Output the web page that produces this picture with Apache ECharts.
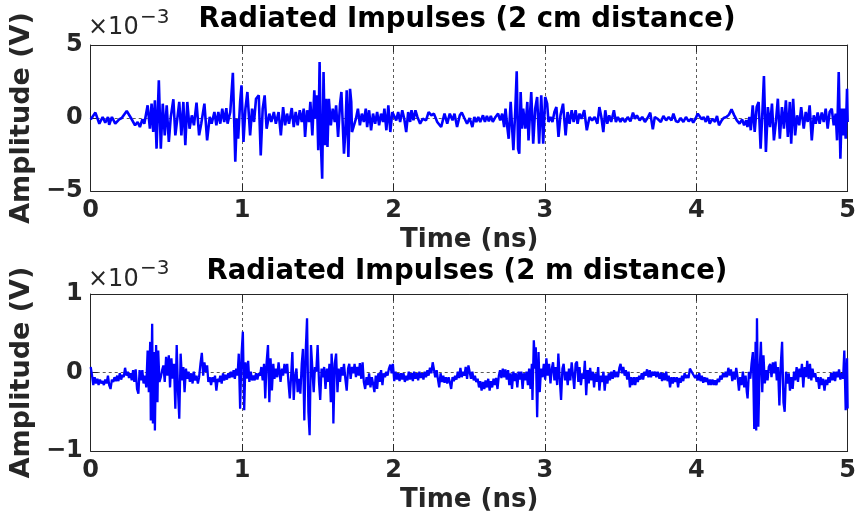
<!DOCTYPE html>
<html><head><meta charset="utf-8">
<script src="https://cdn.jsdelivr.net/npm/echarts@6/dist/echarts.min.js"></script>
<style>html,body{margin:0;padding:0;background:#fff}#c{width:859px;height:525px}</style>
</head><body><div id="c"></div>
<script>
// Time (ns) and amplitude (x1e-3 V)
const titles = ['Radiated Impulses (2 cm distance)', 'Radiated Impulses (2 m distance)'];
const xTickValues = [0, 1, 2, 3, 4, 5];
const yRange1 = [-5, 5];
const yRange2 = [-1, 1];

const pulse2cm = [
[0,-0.1],[0.031,0.37],[0.057,-0.39],[0.079,0.07],[0.096,-0.32],[0.114,0.07],[0.122,-0.46],[0.140,0.07],[0.162,-0.39],[0.188,-0.09],
[0.205,0],[0.238,0.48],[0.266,0],[0.293,-0.5],[0.310,-0.27],[0.325,-0.62],[0.341,-0.09],[0.354,-0.39],[0.376,0.87],[0.391,-0.73],
[0.402,0.98],[0.413,-0.96],[0.424,1.21],[0.435,-2.1],[0.450,2.58],[0.463,-2.1],[0.476,0.98],[0.489,-1.19],[0.502,0.87],[0.516,-1.64],
[0.529,0.07],[0.546,1.28],[0.559,-1.19],[0.572,-0.05],[0.585,1.1],[0.599,-1.19],[0.612,1.1],[0.625,-1.87],[0.638,1.1],[0.653,-0.73],
[0.668,0.18],[0.682,-0.5],[0.699,1.05],[0.716,-1.19],[0.730,-0.39],[0.751,0.98],[0.769,-1.53],[0.786,0.07],[0.799,-0.39],[0.817,0.41],
[0.830,-0.5],[0.843,0.41],[0.856,-0.39],[0.869,0.64],[0.882,-0.27],[0.896,0.68],[0.904,-0.39],[0.922,0.41],[0.939,3.1],[0.955,-3.0],
[0.965,-0.05],[0.974,-1.42],[0.987,1.1],[0.996,2.24],[1.009,-1.64],[1.022,0.64],[1.035,1.78],[1.053,-1.19],[1.066,0.64],[1.079,-0.27],
[1.092,1.32],[1.110,1.55],[1.123,-2.56],[1.136,0.64],[1.149,1.55],[1.162,-0.73],[1.180,0.3],[1.193,-0.27],[1.210,0.41],[1.223,-0.39],
[1.241,0.41],[1.256,-1.19],[1.271,0.75],[1.284,-0.5],[1.297,0.3],[1.310,-0.39],[1.328,0.68],[1.341,-0.62],[1.354,0.41],[1.367,-0.5],
[1.381,0.53],[1.394,-0.27],[1.407,0.64],[1.416,-1.3],[1.429,0.53],[1.442,-0.27],[1.451,1.1],[1.464,-1.19],[1.477,1.9],[1.486,-0.05],
[1.494,1.55],[1.503,-2.21],[1.512,3.84],[1.520,-1.64],[1.529,-4.16],[1.538,3.15],[1.547,-1.87],[1.555,1.32],[1.564,-1.99],[1.573,1.32],
[1.586,-0.5],[1.599,0.64],[1.612,-0.27],[1.621,0.87],[1.634,-1.3],[1.647,0.98],[1.656,1.78],[1.673,-2.44],[1.682,-0.96],[1.691,1.9],
[1.702,-2.67],[1.713,2.0],[1.721,1.1],[1.726,-0.96],[1.739,-0.84],[1.752,-0.05],[1.765,0.64],[1.778,-0.5],[1.791,0.3],[1.804,-0.27],
[1.817,0.64],[1.826,-0.62],[1.839,0.53],[1.852,-0.84],[1.865,0.3],[1.879,-0.39],[1.892,0.41],[1.905,-0.5],[1.918,0.3],[1.931,-0.27],
[1.940,0.64],[1.953,-0.84],[1.966,0.87],[1.979,-0.96],[1.992,0.41],[2.005,0.3],[2.018,-0.16],[2.031,0.41],[2.044,-0.27],[2.058,0.53],
[2.071,-0.05],[2.084,-0.96],[2.097,0.41],[2.110,-0.27],[2.119,0.53],[2.132,-0.16],[2.145,0.53],[2.158,0.07],[2.176,-0.39],[2.193,-0.05],
[2.215,-0.16],[2.232,0.41],[2.250,0.18],[2.267,0.3],[2.289,-0.27],[2.315,-0.62],[2.337,0.3],[2.355,-0.39],[2.372,0.3],[2.390,-0.16],
[2.403,0.3],[2.420,-0.62],[2.438,0.18],[2.451,0.37],[2.468,0],[2.486,-0.39],[2.503,0],[2.521,-0.62],[2.534,0.07],[2.547,-0.27],
[2.560,0.07],[2.573,-0.27],[2.591,0.18],[2.604,-0.27],[2.617,0.14],[2.630,-0.23],[2.643,0.14],[2.656,-0.27],[2.674,0.07],[2.691,0.3],
[2.705,-0.16],[2.718,0.3],[2.731,-0.62],[2.740,0.64],[2.753,-0.73],[2.761,-1.42],[2.774,1.1],[2.783,1.21],[2.792,-2.21],[2.805,0.64],
[2.814,3.2],[2.823,-2.1],[2.831,-2.44],[2.840,1.78],[2.849,-0.73],[2.857,0.64],[2.871,-0.73],[2.884,1.1],[2.892,-1.53],[2.910,1.78],
[2.923,-1.76],[2.936,0.64],[2.949,1.44],[2.962,-1.76],[2.976,1.55],[2.989,-1.76],[3.002,1.44],[3.015,0.98],[3.024,-0.27],[3.037,0.07],
[3.050,-0.27],[3.063,0.41],[3.076,0.75],[3.090,-1.3],[3.103,0.18],[3.120,0.98],[3.137,-1.19],[3.150,0.41],[3.163,-0.39],[3.177,0.53],
[3.190,-0.27],[3.203,0.53],[3.216,-0.39],[3.229,0.3],[3.242,-0.05],[3.260,0.53],[3.277,-0.84],[3.295,0.07],[3.312,-0.16],[3.329,0.07],
[3.347,-0.39],[3.360,0.75],[3.373,0.07],[3.386,-0.96],[3.399,0.53],[3.412,-0.39],[3.425,0.18],[3.438,-0.27],[3.456,0.53],[3.469,-0.27],
[3.482,0.07],[3.499,-0.27],[3.512,0],[3.530,-0.27],[3.547,0.07],[3.565,-0.23],[3.582,0.37],[3.595,-0.05],[3.608,0.18],[3.626,-0.16],
[3.643,0.07],[3.661,-0.27],[3.678,0],[3.696,0.37],[3.713,-0.78],[3.726,0.07],[3.744,-0.05],[3.766,-0.27],[3.783,0.14],[3.801,-0.16],
[3.818,0.07],[3.836,-0.16],[3.849,0.3],[3.866,-0.23],[3.880,-0.27],[3.897,0],[3.915,-0.27],[3.932,0.07],[3.950,-0.23],[3.967,-0.05],
[3.980,-0.32],[3.997,0],[4.010,0.3],[4.023,0.41],[4.036,-0.09],[4.049,0.07],[4.063,-0.27],[4.076,0.14],[4.089,-0.39],[4.107,-0.05],
[4.124,-0.27],[4.137,0.14],[4.150,-0.5],[4.168,-0.16],[4.181,0],[4.199,0.07],[4.216,0.23],[4.233,0.59],[4.251,0.18],[4.268,-0.16],
[4.286,-0.39],[4.303,-0.09],[4.316,-0.5],[4.330,-0.16],[4.338,-0.62],[4.351,0.07],[4.360,-0.84],[4.373,0.87],[4.386,-0.96],[4.399,0.75],
[4.412,1.1],[4.425,-2.1],[4.438,0.64],[4.447,2.88],[4.460,-2.33],[4.473,0.75],[4.487,-0.62],[4.500,0.98],[4.513,-1.53],[4.526,-0.27],
[4.539,1.32],[4.552,-1.42],[4.566,0.75],[4.579,-0.73],[4.592,1.21],[4.605,-1.3],[4.618,1.1],[4.627,-1.76],[4.640,1.32],[4.653,-1.19],
[4.666,0.18],[4.680,-0.5],[4.693,0.75],[4.710,-0.73],[4.723,0.41],[4.736,-0.27],[4.749,0.87],[4.763,-1.53],[4.776,0.18],[4.789,-0.39],
[4.802,0.37],[4.815,-0.39],[4.829,0.37],[4.842,-0.27],[4.855,0.64],[4.868,-0.73],[4.881,0.41],[4.895,0.64],[4.908,-0.5],[4.921,0.3],
[4.930,-1.53],[4.941,3.15],[4.952,-2.79],[4.961,0.64],[4.970,-1.19],[4.978,0.64],[4.987,-1.42],[4.996,2.0],[5.0,-0.27]
];

const pulse2m = [
[0,0.07],[0.009,-0.04],[0.017,-0.16],[0.026,-0.06],[0.035,-0.14],[0.044,-0.08],[0.052,-0.16],[0.061,-0.09],[0.070,-0.14],[0.079,-0.11],
[0.087,-0.16],[0.096,-0.09],[0.105,-0.14],[0.114,-0.04],[0.122,-0.16],[0.131,-0.21],[0.140,-0.09],[0.149,-0.12],[0.157,-0.06],[0.166,-0.11],
[0.175,-0.04],[0.183,-0.11],[0.192,-0.01],[0.201,-0.09],[0.210,-0.03],[0.218,-0.06],[0.227,0.06],[0.236,-0.04],[0.245,0.01],[0.253,-0.07],
[0.262,-0.01],[0.271,-0.10],[0.280,0.03],[0.288,-0.12],[0.297,0.04],[0.306,-0.21],[0.315,-0.27],[0.323,0.03],[0.332,-0.10],[0.341,0.03],
[0.349,-0.14],[0.358,-0.04],[0.367,-0.19],[0.376,0.28],[0.384,-0.25],[0.393,0.39],[0.397,-0.61],[0.406,0.62],[0.411,-0.65],[0.419,0.26],
[0.424,-0.74],[0.432,0.35],[0.441,-0.38],[0.446,0.28],[0.454,-0.12],[0.463,-0.06],[0.472,0.03],[0.480,0.09],[0.489,-0.12],[0.498,0.20],
[0.507,-0.04],[0.516,0.22],[0.524,-0.19],[0.533,0.18],[0.542,-0.08],[0.550,0.11],[0.559,-0.46],[0.568,0.35],[0.577,-0.25],[0.585,-0.59],
[0.594,0.24],[0.603,-0.10],[0.612,0.07],[0.620,-0.25],[0.629,0.05],[0.638,-0.08],[0.646,0.01],[0.655,-0.12],[0.664,-0.01],[0.673,-0.14],
[0.681,0.01],[0.690,-0.10],[0.699,-0.04],[0.708,-0.14],[0.716,-0.06],[0.725,0.11],[0.734,0.25],[0.743,-0.04],[0.751,0.13],[0.760,0.01],
[0.769,0.09],[0.777,-0.12],[0.786,-0.06],[0.795,-0.16],[0.804,-0.06],[0.812,-0.12],[0.821,-0.04],[0.830,-0.23],[0.839,-0.08],[0.847,-0.12],
[0.856,-0.04],[0.865,-0.14],[0.874,-0.01],[0.882,-0.10],[0.891,-0.03],[0.900,-0.09],[0.909,-0.01],[0.917,-0.07],[0.926,0.01],[0.935,-0.06],
[0.944,0.03],[0.952,-0.08],[0.961,0.05],[0.970,-0.04],[0.978,0.24],[0.987,-0.46],[0.996,0.22],[1.005,0.52],[1.014,-0.48],[1.022,0.13],
[1.031,-0.08],[1.040,0.15],[1.048,-0.12],[1.057,0.01],[1.066,-0.10],[1.075,-0.04],[1.083,-0.10],[1.092,-0.01],[1.101,-0.09],[1.110,-0.01],
[1.119,-0.04],[1.127,0.07],[1.136,-0.10],[1.145,0.11],[1.153,-0.33],[1.162,0.13],[1.171,0.35],[1.180,-0.38],[1.188,0.18],[1.197,-0.23],
[1.206,0.11],[1.214,-0.08],[1.223,0.05],[1.232,-0.06],[1.241,0.13],[1.254,-0.12],[1.263,0.05],[1.271,-0.04],[1.280,0.11],[1.289,-0.01],
[1.298,0.11],[1.306,-0.12],[1.315,-0.33],[1.324,-0.04],[1.332,0.26],[1.341,-0.35],[1.350,-0.04],[1.359,0.05],[1.367,-0.25],[1.376,-0.08],
[1.385,-0.27],[1.394,0.11],[1.402,0.30],[1.411,-0.61],[1.420,0.26],[1.429,0.69],[1.438,-0.50],[1.446,-0.80],[1.455,0.35],[1.464,0.05],
[1.473,-0.25],[1.481,0.07],[1.490,0.01],[1.499,0.35],[1.508,-0.12],[1.516,-0.35],[1.525,0.05],[1.534,-0.06],[1.542,0.07],[1.551,-0.21],
[1.560,0.05],[1.569,-0.12],[1.577,0.11],[1.586,-0.38],[1.591,0.24],[1.599,-0.04],[1.603,-0.65],[1.612,0.11],[1.621,0.24],[1.630,-0.25],
[1.638,0.05],[1.647,-0.12],[1.656,0.07],[1.665,-0.04],[1.673,0.11],[1.682,-0.08],[1.691,-0.23],[1.700,0.05],[1.708,0.11],[1.717,-0.08],
[1.726,0.07],[1.735,-0.01],[1.743,0.11],[1.752,-0.06],[1.761,0.07],[1.770,-0.04],[1.778,0.12],[1.787,-0.08],[1.796,0.13],[1.804,-0.12],
[1.813,-0.21],[1.822,-0.06],[1.830,-0.16],[1.839,-0.01],[1.848,-0.19],[1.857,-0.06],[1.865,-0.14],[1.874,-0.25],[1.883,-0.04],[1.892,-0.21],
[1.900,-0.01],[1.909,-0.12],[1.918,0.03],[1.927,-0.16],[1.935,-0.01],[1.944,-0.06],[1.953,0.01],[1.961,-0.04],[1.970,0.05],[1.979,0.10],
[1.988,-0.01],[1.996,0.11],[2.005,-0.11],[2.014,0.01],[2.023,-0.09],[2.031,-0.01],[2.040,-0.11],[2.049,-0.01],[2.058,-0.09],[2.066,-0.01],
[2.075,-0.12],[2.084,-0.04],[2.093,-0.10],[2.101,0.01],[2.110,-0.09],[2.119,-0.01],[2.128,-0.11],[2.136,0.01],[2.145,-0.08],[2.154,-0.01],
[2.163,-0.10],[2.171,0.01],[2.180,-0.07],[2.189,-0.01],[2.198,-0.09],[2.206,0.01],[2.215,-0.06],[2.224,0.03],[2.232,-0.04],[2.241,0.06],
[2.250,-0.01],[2.259,0.13],[2.267,0.15],[2.276,-0.06],[2.285,0.03],[2.294,-0.09],[2.302,-0.19],[2.311,-0.01],[2.320,-0.12],[2.329,-0.04],
[2.337,-0.13],[2.346,-0.06],[2.355,-0.14],[2.364,-0.06],[2.372,-0.12],[2.381,-0.21],[2.390,-0.06],[2.399,-0.11],[2.407,-0.04],[2.416,-0.09],
[2.425,0.01],[2.434,-0.07],[2.442,0.06],[2.451,-0.06],[2.460,0.01],[2.469,-0.04],[2.477,0.07],[2.486,-0.08],[2.495,0.09],[2.503,0.07],
[2.512,-0.08],[2.521,0.01],[2.530,-0.10],[2.538,-0.04],[2.547,-0.12],[2.556,-0.08],[2.565,-0.19],[2.573,-0.11],[2.582,-0.23],[2.591,-0.12],
[2.600,-0.21],[2.608,-0.10],[2.617,-0.19],[2.626,-0.08],[2.635,-0.23],[2.643,-0.11],[2.652,-0.19],[2.661,-0.08],[2.670,-0.16],[2.678,-0.07],
[2.687,-0.21],[2.696,-0.04],[2.704,0.03],[2.713,-0.07],[2.722,0.05],[2.731,-0.06],[2.739,0.04],[2.748,-0.09],[2.757,0.03],[2.765,-0.16],
[2.774,-0.01],[2.783,-0.21],[2.792,0.01],[2.800,-0.11],[2.809,-0.01],[2.818,-0.19],[2.827,0.01],[2.835,-0.09],[2.844,0.01],[2.853,-0.21],
[2.861,-0.01],[2.870,-0.10],[2.879,0.01],[2.888,-0.16],[2.896,0.05],[2.905,-0.21],[2.914,0.11],[2.918,-0.35],[2.927,0.41],[2.936,0.05],
[2.940,0.32],[2.949,-0.57],[2.958,0.26],[2.966,-0.25],[2.975,0.05],[2.984,-0.06],[2.993,0.11],[3.002,-0.09],[3.010,0.18],[3.019,-0.04],
[3.028,0.11],[3.037,-0.14],[3.046,0.05],[3.054,0.13],[3.063,-0.10],[3.072,0.07],[3.081,-0.16],[3.089,0.24],[3.098,-0.08],[3.107,-0.35],
[3.116,0.05],[3.124,0.11],[3.133,-0.10],[3.142,0.01],[3.151,-0.16],[3.159,0.05],[3.168,-0.10],[3.177,0.13],[3.186,-0.04],[3.194,-0.21],
[3.203,0.11],[3.212,0.14],[3.221,-0.12],[3.229,0.07],[3.238,-0.16],[3.247,-0.01],[3.256,-0.08],[3.264,0.15],[3.273,-0.29],[3.282,0.03],
[3.290,-0.14],[3.299,0.06],[3.308,-0.10],[3.317,0.01],[3.325,-0.19],[3.334,-0.01],[3.343,-0.12],[3.352,0.07],[3.360,-0.23],[3.369,-0.04],
[3.378,-0.12],[3.387,0.01],[3.395,-0.23],[3.404,-0.04],[3.413,-0.14],[3.422,-0.01],[3.430,-0.10],[3.439,0.01],[3.448,-0.08],[3.457,0.03],
[3.465,-0.06],[3.474,0.01],[3.483,-0.06],[3.492,0.06],[3.500,0.11],[3.509,-0.01],[3.518,0.07],[3.527,-0.04],[3.535,0.03],[3.544,-0.09],
[3.553,0.01],[3.562,-0.19],[3.570,-0.06],[3.579,-0.16],[3.588,-0.06],[3.597,-0.16],[3.605,-0.06],[3.614,-0.12],[3.623,-0.04],[3.631,-0.09],
[3.640,-0.01],[3.649,-0.09],[3.658,0.01],[3.666,-0.04],[3.675,0.04],[3.684,-0.06],[3.693,0.03],[3.701,-0.06],[3.710,0.01],[3.719,-0.04],
[3.728,0.01],[3.736,-0.06],[3.745,0.01],[3.757,-0.08],[3.766,0.00],[3.774,-0.11],[3.783,-0.01],[3.792,-0.10],[3.801,0.01],[3.810,-0.11],
[3.818,-0.04],[3.827,-0.19],[3.836,-0.06],[3.845,-0.14],[3.853,-0.06],[3.862,-0.12],[3.871,-0.06],[3.880,-0.19],[3.888,-0.07],[3.897,-0.13],
[3.906,-0.04],[3.914,-0.11],[3.923,-0.01],[3.932,-0.07],[3.941,-0.03],[3.949,-0.07],[3.958,0.05],[3.967,0.03],[3.975,-0.01],[3.984,0.01],
[3.993,-0.07],[4.002,-0.03],[4.011,-0.10],[4.020,-0.01],[4.028,-0.11],[4.037,-0.04],[4.046,-0.13],[4.055,-0.06],[4.063,-0.12],[4.072,-0.07],
[4.081,-0.16],[4.090,-0.09],[4.098,-0.16],[4.107,-0.09],[4.116,-0.16],[4.124,-0.10],[4.133,-0.16],[4.142,-0.08],[4.151,-0.12],[4.159,-0.04],
[4.168,-0.09],[4.177,-0.01],[4.186,-0.06],[4.194,0.01],[4.203,-0.06],[4.212,0.06],[4.221,-0.04],[4.229,0.04],[4.238,-0.11],[4.247,0.01],
[4.255,-0.09],[4.264,0.06],[4.273,-0.06],[4.282,-0.23],[4.290,-0.06],[4.299,-0.16],[4.308,0.01],[4.317,-0.19],[4.326,-0.04],[4.334,-0.25],
[4.339,-0.33],[4.348,0.01],[4.357,-0.08],[4.365,0.11],[4.374,0.26],[4.383,-0.72],[4.392,0.39],[4.396,-0.74],[4.401,0.69],[4.410,-0.69],
[4.418,0.01],[4.427,0.39],[4.436,-0.25],[4.444,0.22],[4.453,-0.14],[4.462,0.03],[4.471,-0.10],[4.479,0.07],[4.488,0.11],[4.497,-0.06],
[4.506,0.13],[4.514,-0.01],[4.523,0.14],[4.532,-0.10],[4.540,0.07],[4.549,-0.42],[4.558,0.09],[4.567,0.39],[4.576,-0.38],[4.584,-0.50],
[4.593,0.01],[4.602,-0.14],[4.611,-0.01],[4.619,-0.23],[4.628,-0.06],[4.637,-0.21],[4.646,0.01],[4.654,-0.10],[4.663,0.07],[4.672,-0.12],
[4.681,0.05],[4.689,-0.06],[4.698,0.11],[4.707,-0.19],[4.716,0.07],[4.725,-0.06],[4.733,0.15],[4.742,-0.08],[4.751,0.11],[4.760,-0.10],
[4.768,0.05],[4.777,-0.06],[4.786,-0.01],[4.795,-0.12],[4.803,-0.06],[4.812,-0.21],[4.821,-0.06],[4.830,-0.16],[4.838,-0.08],[4.847,-0.23],
[4.856,-0.09],[4.865,-0.16],[4.873,-0.06],[4.882,-0.13],[4.891,-0.01],[4.900,-0.10],[4.908,0.01],[4.917,-0.11],[4.926,0.01],[4.935,-0.06],
[4.943,0.04],[4.952,-0.09],[4.961,-0.01],[4.970,-0.08],[4.978,0.28],[4.987,-0.48],[4.996,0.18],[5.0,-0.46]
];

const FONT = '"DejaVu Sans", "Noto Sans", sans-serif';
const INK = '#262626';
const chart = echarts.init(document.getElementById('c'), null, {renderer: 'canvas'});

const grids = [
  {left: 86, width: 763, top: 45, height: 146},
  {left: 86, width: 763, top: 294, height: 157}
];
const minus = v => String(v).replace('-', '\u2212');

function xAxes(gi) {
  return [
    {
      gridIndex: gi, type: 'value', position: 'bottom',
      min: xTickValues[0], max: xTickValues[xTickValues.length - 1], interval: 1,
      axisLine: {show: true, onZero: false, lineStyle: {color: INK, width: 1}},
      axisTick: {show: true, inside: true, length: 7, lineStyle: {color: INK, width: 1}},
      axisLabel: {show: true, margin: 8, fontSize: 24, fontWeight: 'bold', color: INK, fontFamily: FONT, formatter: minus},
      splitLine: {show: true, lineStyle: {color: '#5a5a5a', width: 1, type: [3, 3]}},
      name: 'Time (ns)', nameLocation: 'middle', nameGap: 36,
      nameTextStyle: {fontSize: 26, fontWeight: 'bold', color: INK, fontFamily: FONT}
    },
    {
      gridIndex: gi, type: 'value', position: 'top',
      min: xTickValues[0], max: xTickValues[xTickValues.length - 1], interval: 1,
      axisLine: {show: true, onZero: false, lineStyle: {color: INK, width: 1}},
      axisTick: {show: true, inside: true, length: 7, lineStyle: {color: INK, width: 1}},
      axisLabel: {show: false}, splitLine: {show: false}
    }
  ];
}
function yAxes(gi, range) {
  const step = range[1];
  return [
    {
      gridIndex: gi, type: 'value', position: 'left',
      min: range[0], max: range[1], interval: step,
      axisLine: {show: true, onZero: false, lineStyle: {color: INK, width: 1}},
      axisTick: {show: true, inside: true, length: 7, lineStyle: {color: INK, width: 1}},
      axisLabel: {show: true, margin: 8, fontSize: 24, fontWeight: 'bold', color: INK, fontFamily: FONT, formatter: minus},
      splitLine: {show: true, lineStyle: {color: '#5a5a5a', width: 1, type: [3, 3]}},
      name: 'Amplitude (V)', nameLocation: 'middle', nameGap: 40, nameRotate: 90,
      nameTextStyle: {fontSize: 27, fontWeight: 'bold', color: INK, fontFamily: FONT}
    },
    {
      gridIndex: gi, type: 'value', position: 'right',
      min: range[0], max: range[1], interval: step,
      axisLine: {show: true, onZero: false, lineStyle: {color: INK, width: 1}},
      axisTick: {show: true, inside: true, length: 7, lineStyle: {color: INK, width: 1}},
      axisLabel: {show: false}, splitLine: {show: false}
    }
  ];
}

function textEl(x, y, text, font, fill, align) {
  return {type: 'text', x: x, y: y, z: 10,
    style: {text: text, font: font, fill: fill, textAlign: align, textVerticalAlign: 'middle'}};
}

const option = {
  backgroundColor: '#ffffff',
  animation: false,
  grid: grids,
  xAxis: [...xAxes(0), ...xAxes(1)],
  yAxis: [...yAxes(0, yRange1), ...yAxes(1, yRange2)],
  series: [
    {type: 'line', xAxisIndex: 0, yAxisIndex: 0, data: pulse2cm, showSymbol: false, symbol: 'none',
     clip: true, lineStyle: {color: '#0000ff', width: 2.6}, z: 3},
    {type: 'line', xAxisIndex: 2, yAxisIndex: 2, data: pulse2m, showSymbol: false, symbol: 'none',
     clip: true, lineStyle: {color: '#0000ff', width: 2.3}, z: 3}
  ],
  graphic: [
    textEl(467, 20, titles[0], 'bold 27.5px ' + FONT, '#000', 'center'),
    textEl(467, 272, titles[1], 'bold 27.5px ' + FONT, '#000', 'center'),
    textEl(88, 28, '\u00d710', '24px ' + FONT, INK, 'left'),
    textEl(140, 18, '\u22123', '20px ' + FONT, INK, 'left'),
    textEl(88, 280, '\u00d710', '24px ' + FONT, INK, 'left'),
    textEl(140, 269, '\u22123', '20px ' + FONT, INK, 'left')
  ]
};
chart.setOption(option);
</script>
</body></html>
